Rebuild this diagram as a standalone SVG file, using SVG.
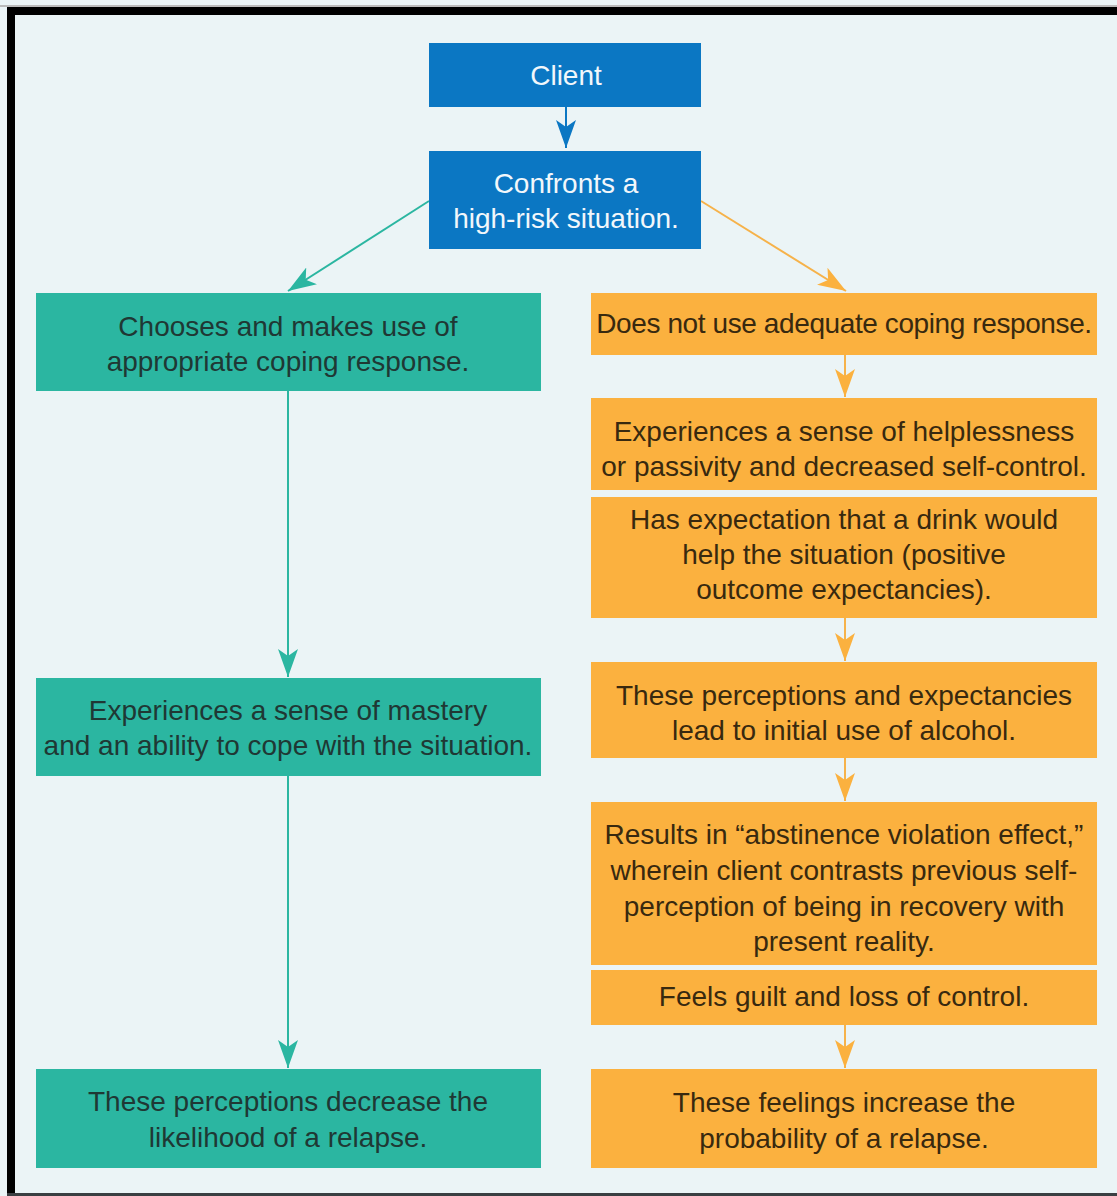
<svg xmlns="http://www.w3.org/2000/svg" width="1117" height="1196" viewBox="0 0 1117 1196">
<defs>
<style>
.bg{fill:#ebf4f6}
.blue{fill:#0b77c3}
.teal{fill:#2bb6a1}
.orange{fill:#fbb13f}
text{font-family:"Liberation Sans",Arial,sans-serif;font-size:28px;text-anchor:middle}
.tw{fill:#f2f7fb}
.tt{fill:#1f3834}
.to{fill:#38290f}
.cb{stroke:#0b77c3;stroke-width:2;fill:none}
.ct{stroke:#2bb6a1;stroke-width:2;fill:none}
.co{stroke:#f6b24a;stroke-width:2;fill:none}
</style>
<marker id="ab" viewBox="0 0 28 20" refX="28" refY="10" markerWidth="28" markerHeight="20" markerUnits="userSpaceOnUse" orient="auto"><path d="M0,0 L28,10 L0,20 L7,10 z" fill="#0b77c3"/></marker>
<marker id="at" viewBox="0 0 28 20" refX="28" refY="10" markerWidth="28" markerHeight="20" markerUnits="userSpaceOnUse" orient="auto"><path d="M0,0 L28,10 L0,20 L7,10 z" fill="#2bb6a1"/></marker>
<marker id="ao" viewBox="0 0 28 20" refX="28" refY="10" markerWidth="28" markerHeight="20" markerUnits="userSpaceOnUse" orient="auto"><path d="M0,0 L28,10 L0,20 L7,10 z" fill="#fbb13f"/></marker>
</defs>
<rect class="bg" x="0" y="0" width="1117" height="1196"/>
<rect x="0" y="5" width="1117" height="2" fill="#bbbbbb"/>
<rect x="7" y="7" width="1110" height="8" fill="#000"/>
<rect x="7" y="7" width="8" height="1189" fill="#000"/>
<rect x="7" y="1193" width="1110" height="3" fill="#3a3f42"/>

<g id="connectors">
<path class="cb" d="M566,107 L566,148" marker-end="url(#ab)"/>
<path class="ct" d="M429,201 L288,291" marker-end="url(#at)"/>
<path class="co" d="M701,201 L846,291" marker-end="url(#ao)"/>
<path class="ct" d="M288,391 L288,677" marker-end="url(#at)"/>
<path class="ct" d="M288,776 L288,1068" marker-end="url(#at)"/>
<path class="co" d="M845,355 L845,397" marker-end="url(#ao)"/>
<path class="co" d="M845,618 L845,661" marker-end="url(#ao)"/>
<path class="co" d="M845,758 L845,801" marker-end="url(#ao)"/>
<path class="co" d="M845,1025 L845,1068" marker-end="url(#ao)"/>
</g>

<g id="client">
<rect class="blue" x="429" y="43" width="272" height="64"/>
<text class="tw" x="566" y="85">Client</text>
</g>
<g id="confronts">
<rect class="blue" x="429" y="151" width="272" height="98"/>
<text class="tw" x="566" y="193">Confronts a</text>
<text class="tw" x="566" y="228">high-risk situation.</text>
</g>

<g id="chooses">
<rect class="teal" x="36" y="293" width="505" height="98"/>
<text class="tt" x="288" y="336">Chooses and makes use of</text>
<text class="tt" x="288" y="371">appropriate coping response.</text>
</g>
<g id="mastery">
<rect class="teal" x="36" y="678" width="505" height="98"/>
<text class="tt" x="288" y="720">Experiences a sense of mastery</text>
<text class="tt" x="288" y="755">and an ability to cope with the situation.</text>
</g>
<g id="decrease">
<rect class="teal" x="36" y="1069" width="505" height="99"/>
<text class="tt" x="288" y="1111">These perceptions decrease the</text>
<text class="tt" x="288" y="1147">likelihood of a relapse.</text>
</g>

<g id="not-use">
<rect class="orange" x="591" y="293" width="506" height="62"/>
<text class="to" x="844" y="333" style="letter-spacing:-0.4px">Does not use adequate coping response.</text>
</g>
<g id="helplessness">
<rect class="orange" x="591" y="398" width="506" height="92"/>
<text class="to" x="844" y="441">Experiences a sense of helplessness</text>
<text class="to" x="844" y="476">or passivity and decreased self-control.</text>
</g>
<g id="expectation">
<rect class="orange" x="591" y="497" width="506" height="121"/>
<text class="to" x="844" y="529">Has expectation that a drink would</text>
<text class="to" x="844" y="564">help the situation (positive</text>
<text class="to" x="844" y="599">outcome expectancies).</text>
</g>
<g id="initial-use">
<rect class="orange" x="591" y="662" width="506" height="96"/>
<text class="to" x="844" y="705">These perceptions and expectancies</text>
<text class="to" x="844" y="740">lead to initial use of alcohol.</text>
</g>
<g id="abstinence">
<rect class="orange" x="591" y="802" width="506" height="163"/>
<text class="to" x="844" y="844">Results in “abstinence violation effect,”</text>
<text class="to" x="844" y="880">wherein client contrasts previous self-</text>
<text class="to" x="844" y="916">perception of being in recovery with</text>
<text class="to" x="844" y="951">present reality.</text>
</g>
<g id="guilt">
<rect class="orange" x="591" y="970" width="506" height="55"/>
<text class="to" x="844" y="1006">Feels guilt and loss of control.</text>
</g>
<g id="increase">
<rect class="orange" x="591" y="1069" width="506" height="99"/>
<text class="to" x="844" y="1112">These feelings increase the</text>
<text class="to" x="844" y="1148">probability of a relapse.</text>
</g>
</svg>
